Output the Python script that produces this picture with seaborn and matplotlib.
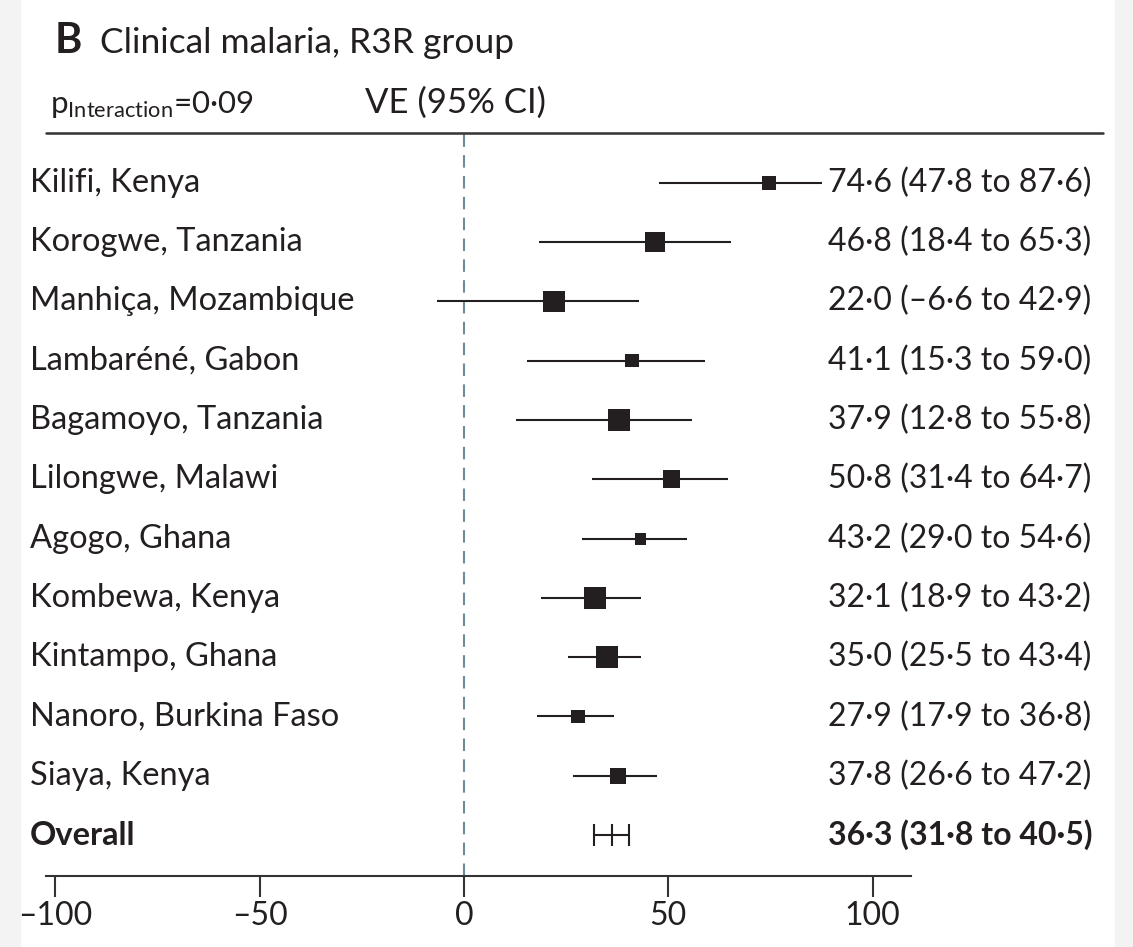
import matplotlib
matplotlib.use("Agg")
import matplotlib.pyplot as plt
import matplotlib.patches as mpatches
import seaborn as sns
import pandas as pd

sites = ["Kilifi, Kenya", "Korogwe, Tanzania", "Manhiça, Mozambique", "Lambaréné, Gabon",
         "Bagamoyo, Tanzania", "Lilongwe, Malawi", "Agogo, Ghana", "Kombewa, Kenya",
         "Kintampo, Ghana", "Nanoro, Burkina Faso", "Siaya, Kenya"]
ve = [74.6, 46.8, 22.0, 41.1, 37.9, 50.8, 43.2, 32.1, 35.0, 27.9, 37.8]
ci_low = [47.8, 18.4, -6.6, 15.3, 12.8, 31.4, 29.0, 18.9, 25.5, 17.9, 26.6]
ci_high = [87.6, 65.3, 42.9, 59.0, 55.8, 64.7, 54.6, 43.2, 43.4, 36.8, 47.2]
weight = [1.8, 3.7, 4.6, 1.8, 4.7, 3.1, 1.4, 4.7, 5.0, 1.8, 2.5]

overall_ve = 36.3
overall_low = 31.8
overall_high = 40.5

xticks = [-100, -50, 0, 50, 100]
xtick_labels = ["\u2013100", "\u201350", "0", "50", "100"]

ink = "#231f20"


def fmt(v):
    s = f"{abs(v):.1f}".replace(".", "\u00b7")
    return ("\u2013" if v < 0 else "") + s


df = pd.DataFrame({"site": sites, "ve": ve, "lo": ci_low, "hi": ci_high,
                   "weight": weight, "row": range(len(sites))})

sns.set_style("white")
plt.rcParams["font.family"] = ["Lato", "DejaVu Sans"]
plt.rcParams["mathtext.fontset"] = "custom"
plt.rcParams["mathtext.rm"] = "Lato"

W, H = 1133, 947
fig = plt.figure(figsize=(W / 100, H / 100), dpi=100)
fig.patches.append(mpatches.Rectangle((0, 0), 20 / W, 1, transform=fig.transFigure,
                                      color="#f3f3f3", zorder=-10))
fig.patches.append(mpatches.Rectangle((1115 / W, 0), 1, 1, transform=fig.transFigure,
                                      color="#f3f3f3", zorder=-10))

ax = fig.add_axes([46 / W, 1 - 876 / H, 865 / W, 743 / H])
ax.set_facecolor("none")

ax.hlines(df["row"], df["lo"], df["hi"], color=ink, lw=1.5, zorder=2)
sns.scatterplot(data=df, x="ve", y="row", size="weight", sizes=(74, 265),
                size_norm=(1.4, 5.0), marker="s", color=ink, linewidth=0,
                legend=False, ax=ax, zorder=3)

n = len(sites)
ax.errorbar([overall_ve], [n], xerr=[[overall_ve - overall_low], [overall_high - overall_ve]],
            fmt="none", ecolor=ink, elinewidth=1.5, capsize=8, capthick=1.5, zorder=3)
ax.plot([overall_ve], [n], marker="|", markersize=16, mew=1.5, color=ink, zorder=3)

ax.axvline(0, color="#6f8b98", lw=1.5, ls=(0, (6, 4)), zorder=1)

ax.set_xlim(-102.3, 109.4)
ax.set_ylim(n + 0.69, -0.84)
ax.set_xticks(xticks)
ax.set_xticklabels(xtick_labels, fontsize=23, color=ink)
ax.set_yticks([])
ax.tick_params(axis="x", bottom=True, direction="out", length=15, width=1.5,
               color="#333333", pad=3)
for s in ["left", "right", "top"]:
    ax.spines[s].set_visible(False)
ax.spines["bottom"].set_color("#333333")
ax.spines["bottom"].set_linewidth(1.5)
ax.set_xlabel("")
ax.set_ylabel("")

tr = ax.get_yaxis_transform()
for i, row in df.iterrows():
    ax.text(-0.0185, row["row"], row["site"], transform=tr, ha="left", va="center",
            fontsize=23.5, color=ink)
    ax.text(0.904, row["row"], f"{fmt(row['ve'])} ({fmt(row['lo'])} to {fmt(row['hi'])})",
            transform=tr, ha="left", va="center", fontsize=23, color=ink)
ax.text(-0.0185, n, "Overall", transform=tr, ha="left", va="center", fontsize=23.5,
        color=ink, fontweight="bold")
ax.text(0.904, n, f"{fmt(overall_ve)} ({fmt(overall_low)} to {fmt(overall_high)})",
        transform=tr, ha="left", va="center", fontsize=23, color=ink, fontweight="bold")

# header
fig.text(55 / W, 1 - 53 / H, "B", fontsize=30, fontweight="bold", color=ink, va="baseline")
fig.text(100 / W, 1 - 53 / H, "Clinical malaria, R3R group", fontsize=25.5, color=ink,
         va="baseline")
fig.text(50 / W, 1 - 113 / H, "$\\mathregular{p_{Interaction}}$=0\u00b709", fontsize=22.5,
         color=ink, va="baseline")
fig.text(365 / W, 1 - 113 / H, "VE (95% CI)", fontsize=25, color=ink, va="baseline")
fig.add_artist(plt.Line2D([46 / W, 1103 / W], [1 - 133 / H, 1 - 133 / H],
                          color="#333333", lw=1.8))

fig.savefig("out.png", dpi=100, facecolor="white")
